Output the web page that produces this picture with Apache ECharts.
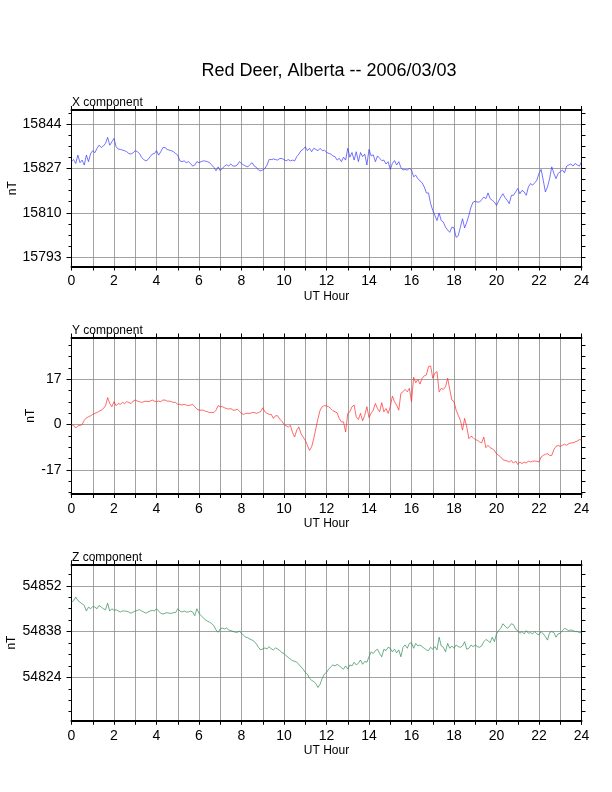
<!DOCTYPE html>
<html lang="en">
<head>
<meta charset="UTF-8">
<title>Red Deer, Alberta -- 2006/03/03</title>
<script src="https://cdn.jsdelivr.net/npm/echarts@6/dist/echarts.min.js"></script>
<style>
    html, body { margin: 0; padding: 0; background: #fff; }
    #chart { width: 612px; height: 792px; }
</style>
</head>
<body>
<div id="chart"></div>
<script>
// samples every 0.1 UT hour, 0..24
const STEP = 0.1;

const xValues = [
    15829.6, 15830.4, 15828.9, 15832.1, 15829.2, 15830.2, 15828.3, 15832.1, 15829.6, 15832.7,
    15833.8, 15833.0, 15834.7, 15835.9, 15835.0, 15835.6, 15836.6, 15838.9, 15835.9, 15837.2,
    15838.5, 15835.3, 15834.4, 15834.3, 15834.0, 15833.8, 15833.4, 15832.7, 15832.5, 15833.0,
    15833.8, 15833.4, 15832.7, 15831.2, 15830.4, 15829.9, 15830.4, 15831.5, 15832.5, 15832.7,
    15833.8, 15832.1, 15833.4, 15835.0, 15835.0, 15834.3, 15834.0, 15833.8, 15833.4, 15832.7,
    15832.1, 15829.9, 15829.6, 15829.9, 15829.2, 15829.6, 15828.9, 15827.9, 15828.3, 15829.6,
    15829.2, 15829.6, 15829.9, 15829.8, 15829.6, 15829.2, 15828.3, 15827.4, 15826.1, 15827.6,
    15826.1, 15827.0, 15827.9, 15828.4, 15827.9, 15828.7, 15827.9, 15827.9, 15828.3, 15829.6,
    15828.9, 15828.3, 15827.9, 15827.6, 15828.5, 15829.2, 15827.9, 15827.4, 15826.4, 15826.1,
    15826.4, 15827.0, 15828.3, 15830.4, 15830.4, 15830.6, 15830.4, 15830.2, 15830.8, 15830.8,
    15830.4, 15829.9, 15830.4, 15829.9, 15830.2, 15829.9, 15831.5, 15832.5, 15833.8, 15834.3,
    15835.3, 15833.8, 15834.7, 15833.4, 15834.7, 15834.3, 15833.8, 15834.7, 15833.8, 15834.0,
    15833.2, 15832.8, 15832.5, 15831.8, 15831.5, 15830.2, 15830.9, 15829.6, 15831.3, 15830.2,
    15834.7, 15831.3, 15833.1, 15830.2, 15833.4, 15829.6, 15833.1, 15831.5, 15832.5, 15828.3,
    15834.3, 15831.8, 15832.2, 15829.6, 15831.8, 15830.9, 15830.0, 15830.2, 15828.7, 15829.6,
    15826.6, 15828.9, 15830.0, 15828.3, 15829.6, 15827.4, 15826.4, 15826.6, 15826.4, 15827.0,
    15826.4, 15823.8, 15824.4, 15823.1, 15822.2, 15821.5, 15819.9, 15817.6, 15817.6, 15813.5,
    15810.9, 15809.0, 15807.0, 15809.9, 15807.0, 15806.4, 15804.5, 15803.4, 15802.5, 15804.5,
    15804.2, 15800.6, 15801.2, 15804.5, 15807.7, 15804.2, 15806.4, 15809.0, 15812.2, 15814.1,
    15814.4, 15814.1, 15814.1, 15815.0, 15816.0, 15815.4, 15817.6, 15815.4, 15814.8, 15814.1,
    15812.8, 15814.5, 15816.0, 15817.3, 15815.8, 15814.8, 15813.5, 15816.7, 15816.7, 15818.0,
    15819.3, 15817.3, 15818.6, 15818.0, 15816.7, 15819.9, 15821.2, 15820.6, 15821.5, 15822.5,
    15825.1, 15826.6, 15822.5, 15818.0, 15819.9, 15823.1, 15827.6, 15825.1, 15823.1, 15825.1,
    15825.7, 15826.4, 15825.3, 15827.9, 15828.3, 15828.7, 15827.9, 15828.9, 15828.3, 15827.9,
    15829.6
];

const yValues = [
    0.0, -0.3, -1.3, -0.5, -0.3, 0.0, 1.6, 2.5, 2.9, 3.3,
    3.8, 4.2, 4.5, 5.0, 5.4, 6.0, 7.1, 10.1, 7.9, 6.7,
    8.6, 7.1, 7.9, 7.6, 8.3, 7.9, 8.6, 8.3, 7.9, 8.8,
    9.2, 8.8, 8.6, 8.3, 8.6, 8.8, 8.6, 8.8, 9.2, 8.8,
    8.6, 8.8, 8.6, 9.2, 9.2, 8.8, 8.8, 8.6, 8.3, 8.3,
    7.6, 7.6, 7.3, 7.6, 7.3, 7.1, 7.3, 7.6, 6.7, 5.8,
    5.4, 5.4, 5.4, 5.0, 4.8, 4.5, 4.5, 4.5, 5.4, 7.1,
    6.7, 6.7, 6.3, 6.0, 5.8, 6.0, 5.4, 5.4, 5.8, 5.0,
    4.2, 3.8, 4.2, 4.2, 4.2, 4.5, 4.5, 4.2, 4.5, 4.8,
    6.3, 4.8, 4.2, 3.8, 3.8, 2.3, 3.3, 3.3, 2.0, 1.3,
    0.0, -0.5, -0.9, -0.3, -3.0, -4.7, -2.1, -0.9, -3.4, -4.7,
    -5.9, -7.8, -9.7, -8.4, -5.3, -1.5, 2.3, 5.4, 6.7, 7.1,
    7.0, 6.7, 6.0, 5.2, 4.8, 4.4, 2.3, 1.0, 1.0, -2.8,
    4.2, 4.8, 6.7, 7.3, 2.9, 1.9, 4.2, 1.4, 3.5, 6.7,
    2.6, 4.2, 5.4, 7.9, 6.0, 4.8, 8.2, 4.8, 6.0, 4.2,
    6.7, 10.7, 8.6, 7.3, 5.4, 11.7, 12.3, 13.2, 12.3, 13.6,
    8.6, 17.8, 15.7, 17.0, 15.2, 17.4, 18.3, 18.6, 21.8, 22.0,
    17.4, 19.3, 19.9, 12.3, 13.6, 13.2, 14.2, 17.4, 13.2, 9.2,
    8.6, 5.4, 3.5, 1.6, -2.1, 2.3, -0.9, -5.3, -4.4, -4.9,
    -5.7, -5.9, -6.5, -6.9, -4.7, -8.7, -7.8, -8.7, -9.1, -9.7,
    -11.0, -11.6, -12.2, -13.2, -13.5, -13.7, -14.1, -13.5, -14.5, -13.7,
    -15.0, -14.1, -14.7, -14.1, -14.5, -13.7, -14.1, -13.8, -13.7, -13.8,
    -14.1, -12.2, -11.6, -11.2, -11.0, -11.6, -11.6, -9.4, -8.2, -7.9,
    -8.2, -7.8, -7.4, -7.8, -7.2, -6.9, -6.9, -6.5, -6.2, -5.7,
    -5.7
];

const zValues = [
    54847.0, 54847.5, 54848.6, 54847.5, 54847.0, 54846.5, 54846.0, 54844.3, 54845.5, 54845.0,
    54845.7, 54845.5, 54845.0, 54846.0, 54845.5, 54845.0, 54844.7, 54846.7, 54844.3, 54845.0,
    54844.5, 54844.7, 54844.3, 54844.0, 54844.3, 54844.3, 54844.2, 54844.0, 54843.6, 54844.0,
    54844.3, 54844.5, 54844.7, 54844.3, 54844.0, 54843.6, 54844.0, 54844.3, 54844.5, 54844.3,
    54845.0, 54844.3, 54843.6, 54843.4, 54843.6, 54843.8, 54843.6, 54843.6, 54843.8, 54843.8,
    54845.0, 54844.3, 54844.0, 54844.3, 54844.0, 54844.0, 54844.3, 54844.0, 54842.9, 54845.0,
    54843.6, 54842.9, 54842.2, 54841.6, 54841.2, 54840.9, 54840.4, 54839.8, 54838.5, 54837.8,
    54838.8, 54839.1, 54838.8, 54839.1, 54838.5, 54838.3, 54838.1, 54837.8, 54837.8, 54838.1,
    54837.5, 54836.8, 54836.3, 54836.1, 54835.7, 54835.4, 54835.0, 54834.2, 54833.2, 54832.4,
    54832.7, 54833.0, 54832.7, 54833.4, 54832.7, 54832.4, 54833.0, 54832.7, 54832.2, 54831.6,
    54831.3, 54830.6, 54830.1, 54829.6, 54829.1, 54828.9, 54828.6, 54828.0, 54827.2, 54826.5,
    54825.5, 54825.0, 54823.7, 54823.1, 54822.7, 54822.1, 54820.9, 54821.9, 54823.7, 54825.0,
    54825.5, 54826.5, 54827.2, 54827.8, 54827.5, 54828.0, 54827.5, 54827.0, 54826.5, 54827.5,
    54826.5, 54827.8, 54827.5, 54828.6, 54827.8, 54828.3, 54829.3, 54828.0, 54828.9, 54828.6,
    54830.3, 54831.8, 54831.3, 54832.2, 54832.6, 54831.3, 54830.3, 54832.6, 54832.2, 54833.2,
    54832.9, 54831.8, 54832.6, 54831.5, 54832.4, 54830.3, 54833.2, 54833.9, 54832.9, 54834.4,
    54834.6, 54832.9, 54834.4, 54833.6, 54833.9, 54833.4, 54832.9, 54832.4, 54832.2, 54833.2,
    54832.6, 54833.4, 54832.4, 54836.3, 54833.6, 54833.2, 54831.8, 54834.4, 54832.9, 54833.6,
    54832.9, 54833.9, 54833.4, 54833.2, 54833.6, 54834.9, 54832.6, 54832.9, 54833.9, 54833.4,
    54833.9, 54833.4, 54833.2, 54833.6, 54834.9, 54835.6, 54835.2, 54834.6, 54836.3, 54834.9,
    54837.3, 54838.3, 54839.0, 54840.4, 54839.7, 54839.0, 54839.5, 54840.4, 54840.1, 54838.7,
    54838.3, 54837.5, 54838.0, 54837.3, 54838.3, 54837.5, 54837.7, 54837.3, 54838.0, 54837.3,
    54837.0, 54838.0, 54837.3, 54836.5, 54835.4, 54837.7, 54838.0, 54837.7, 54836.3, 54837.3,
    54837.5, 54838.3, 54839.0, 54838.7, 54838.3, 54838.5, 54838.3, 54838.0, 54838.0, 54837.7,
    54837.7
];

// labelled y ticks per panel
const xTicks = [15793, 15810, 15827, 15844];
const yTicks = [-17, 0, 17];
const zTicks = [54824, 54838, 54852];

const FONT = '"Liberation Sans", Helvetica, Arial, sans-serif';
const GRID_LINE = {color: '#8c8c8c', width: 0.8};

const panels = [
    {label: 'X component', values: xValues, ticks: xTicks, color: '#3838ff',
        min: 15789.4, max: 15849.4, top: 110, nameGap: 53},
    {label: 'Y component', values: yValues, ticks: yTicks, color: '#ff2a2a',
        min: -26.1, max: 32.7, top: 337.5, nameGap: 35},
    {label: 'Z component', values: zValues, ticks: zTicks, color: '#2e8b57',
        min: 54810.7, max: 54858.6, top: 564.3, nameGap: 54}
];

// minor ticks: quarter of the labelled step, across the axis range
function minorTicks(p) {
    let step = (p.ticks[1] - p.ticks[0]) / 4;
    let out = [];
    let v = p.ticks[0];
    while (v - step >= p.min) v -= step;
    for (; v <= p.max; v += step) out.push(+v.toFixed(3));
    return out;
}

let grid = [], xAxis = [], yAxis = [], series = [];
let title = [{
    text: 'Red Deer, Alberta -- 2006/03/03',
    left: 324, top: 57, textAlign: 'center',
    textStyle: {fontFamily: FONT, fontSize: 18, fontWeight: 'normal', color: '#000'}
}];

panels.forEach(function (p, i) {
    grid.push({left: 71.5, width: 510, top: p.top, height: 156.5,
        containLabel: false, outerBoundsMode: 'none'});
    title.push({
        text: p.label, left: 67, top: p.top - 18,
        textStyle: {fontFamily: FONT, fontSize: 12, fontWeight: 'normal', color: '#000'}
    });
    xAxis.push({
        type: 'value', gridIndex: i, position: 'bottom', min: 0, max: 24, interval: 1,
        name: 'UT Hour', nameLocation: 'middle', nameGap: 24, nameMoveOverlap: false,
        nameTextStyle: {fontFamily: FONT, fontSize: 12, color: '#000'},
        axisLine: {onZero: false, lineStyle: {color: '#000', width: 2}},
        axisTick: {length: 4, lineStyle: {color: '#000', width: 1}},
        axisLabel: {
            fontFamily: FONT, fontSize: 14, color: '#000', margin: 8,
            formatter: function (v) { return v % 2 === 0 ? String(v) : ''; }
        },
        splitLine: {show: true, lineStyle: GRID_LINE}
    });
    xAxis.push({
        type: 'value', gridIndex: i, position: 'top', min: 0, max: 24, interval: 1,
        axisLine: {onZero: false, lineStyle: {color: '#000', width: 2}},
        axisTick: {length: 4, lineStyle: {color: '#000', width: 1}},
        axisLabel: {show: false},
        splitLine: {show: false}
    });
    let minors = minorTicks(p);
    yAxis.push({
        type: 'value', gridIndex: i, position: 'left', min: p.min, max: p.max,
        name: 'nT', nameLocation: 'middle', nameGap: p.nameGap, nameRotate: 90,
        nameMoveOverlap: false,
        nameTextStyle: {fontFamily: FONT, fontSize: 12, color: '#000'},
        axisLine: {show: true, onZero: false, lineStyle: {color: '#000', width: 1}},
        axisTick: {show: true, length: 5, customValues: p.ticks, lineStyle: {color: '#000'}},
        axisLabel: {
            customValues: p.ticks, fontFamily: FONT, fontSize: 14, color: '#000', margin: 10,
            formatter: function (v) { return String(v); }
        },
        splitLine: {show: true, lineStyle: GRID_LINE}
    });
    yAxis.push({
        type: 'value', gridIndex: i, position: 'left', offset: 0, min: p.min, max: p.max,
        axisLine: {show: false, onZero: false},
        axisTick: {show: true, length: 3, customValues: minors, lineStyle: {color: '#000'}},
        axisLabel: {show: false},
        splitLine: {show: false}
    });
    yAxis.push({
        type: 'value', gridIndex: i, position: 'right', offset: 0, min: p.min, max: p.max,
        axisLine: {show: true, onZero: false, lineStyle: {color: '#000', width: 1}},
        axisTick: {show: true, length: 4, customValues: minors, lineStyle: {color: '#000'}},
        axisLabel: {show: false},
        splitLine: {show: false}
    });
    series.push({
        type: 'line', xAxisIndex: 2 * i, yAxisIndex: 3 * i,
        data: p.values.map(function (v, k) { return [+(k * STEP).toFixed(1), v]; }),
        showSymbol: false, symbol: 'none', sampling: null,
        lineStyle: {color: p.color, width: 0.7},
        silent: true
    });
});

let chart = echarts.init(document.getElementById('chart'), null, {renderer: 'canvas'});
chart.setOption({
    animation: false,
    backgroundColor: '#fff',
    title: title,
    grid: grid,
    xAxis: xAxis,
    yAxis: yAxis,
    series: series
});
</script>
</body>
</html>
